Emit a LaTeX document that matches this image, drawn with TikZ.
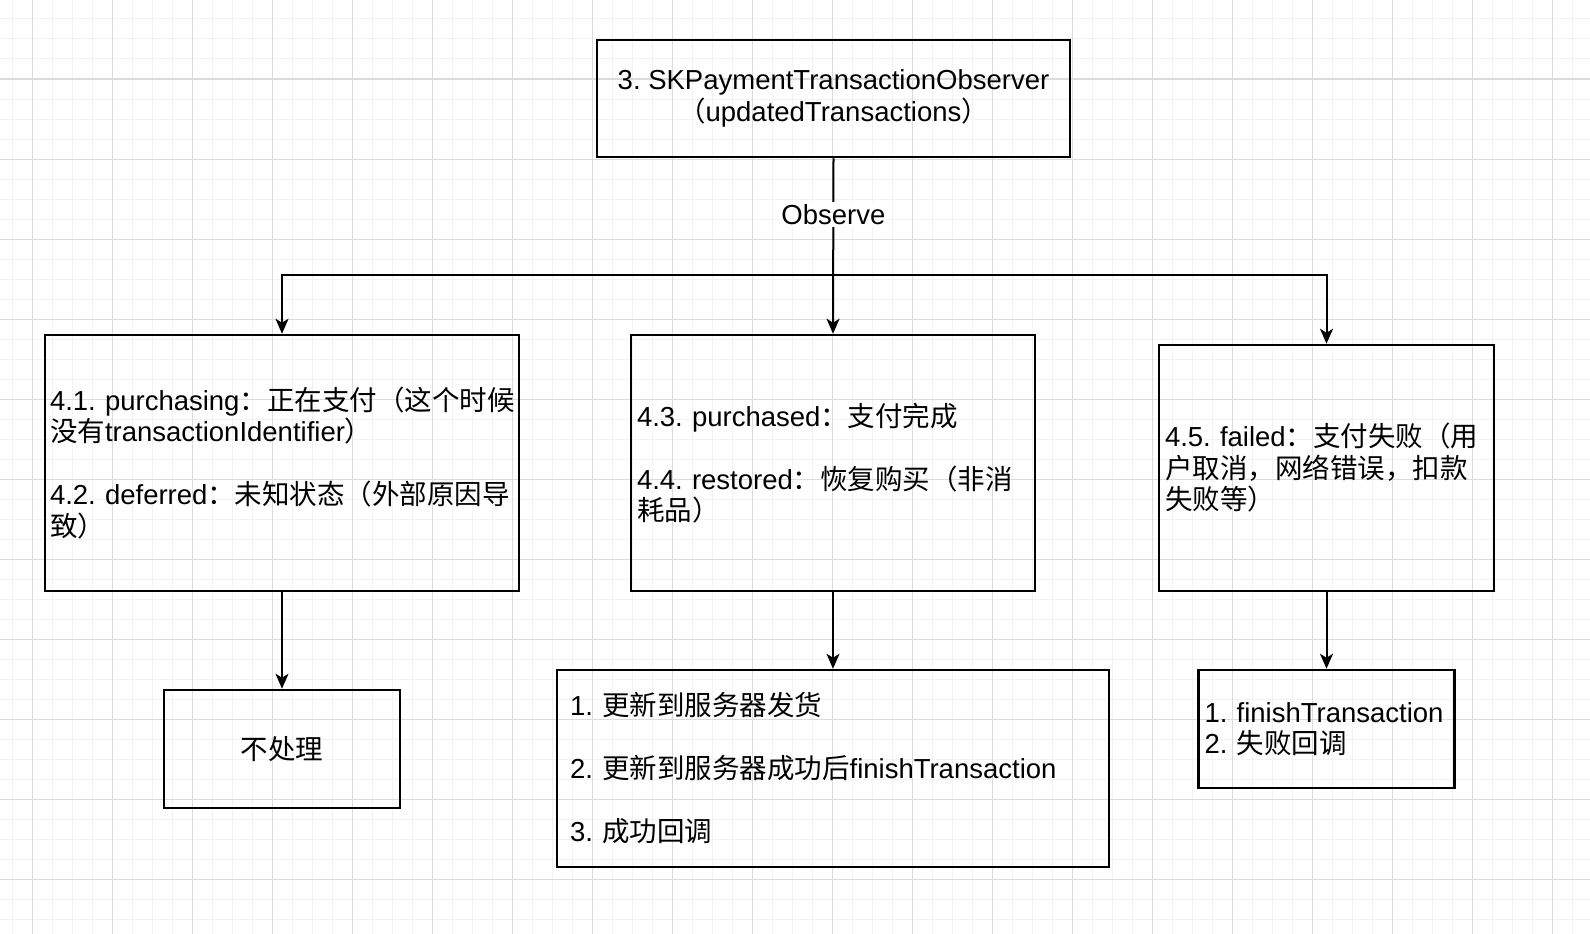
\documentclass[tikz,border=0pt]{standalone}
\usepackage{fontspec}
\setmainfont{Liberation Sans}
\newfontfamily\zhfont{Noto Sans CJK SC}
\usetikzlibrary{arrows.meta}

\begin{document}
\frenchspacing\hyphenpenalty=10000 \hbadness=10000 \hfuzz=20pt
\begin{tikzpicture}[x=1pt,y=-1pt,
   font=\fontsize{27.5}{31.5}\selectfont,
   box/.style={draw,line width=2.5pt,inner xsep=6pt,align=left},
   flow/.style={-{Stealth[length=15pt,width=13pt,inset=4pt]},line width=2pt}]
   % grid paper
   \fill[white] (0,0) rectangle (1590,934);
   \useasboundingbox (0,0) rectangle (1590,934);
   \foreach \x in {12,32,...,1590} \draw[black!5,line width=1pt] (\x,0) -- (\x,934);
   \foreach \y in {19,39,...,934} \draw[black!5,line width=1pt] (0,\y) -- (1590,\y);
   \foreach \x in {32,112,...,1590} \draw[black!14,line width=1pt] (\x,0) -- (\x,934);
   \foreach \y in {79,159,...,934} \draw[black!14,line width=1pt] (0,\y) -- (1590,\y);

   \node[box,align=center,minimum width=473pt,minimum height=117pt] (obs) at (833.5,98.5)
      {3.~SKPaymentTransactionObserver\\{\zhfont （}updatedTransactions{\zhfont ）}};

   \node[box,inner xsep=5pt,text width=464pt,minimum height=256pt] (ing) at (282,463)
      {\mbox{4.1.~purchasing{\zhfont ：正在支付（这个时候}}\\{\zhfont 没有}transactionIdentifier{\zhfont ）}\\[31.5pt]
       4.2.~deferred{\zhfont ：未知状态（外部原因导}\\{\zhfont 致）}};
   \node[box,text width=392pt,minimum height=256pt] (ed) at (833,463)
      {4.3.~purchased{\zhfont ：支付完成}\\[31.5pt]
       4.4.~restored{\zhfont ：恢复购买（非消}\\{\zhfont 耗品）}};
   \node[box,text width=323pt,minimum height=246pt] (fail) at (1326.5,468)
      {4.5.~failed{\zhfont ：支付失败（用}\\{\zhfont 户取消，网络错误，扣款}\\{\zhfont 失败等）}};

   \node[box,align=center,minimum width=236pt,minimum height=118pt] (skip) at (282,749)
      {\zhfont 不处理};
   \node[box,inner xsep=13pt,text width=526pt,minimum height=197pt] (ok) at (833,768.5)
      {1.~{\zhfont 更新到服务器发货}\\[31.5pt]
       2.~{\zhfont 更新到服务器成功后}finishTransaction\\[31.5pt]
       3.~{\zhfont 成功回调}};
   \node[box,text width=244pt,minimum height=118pt] (err) at (1326.5,729)
      {1.~finishTransaction\\2.~{\zhfont 失败回调}};

   % observer fans out
   \coordinate (fork) at (833.5,275);
   \draw[flow] (obs.south) -- node[pos=.32,fill=white,inner sep=2pt] {Observe} (ed.north);
   \draw[flow] (fork) -| (ing.north);
   \draw[flow] (fork) -| (fail.north);

   \draw[flow] (ing.south) -- (skip.north);
   \draw[flow] (ed.south) -- (ok.north);
   \draw[flow] (fail.south) -- (err.north);
\end{tikzpicture}
\end{document}
